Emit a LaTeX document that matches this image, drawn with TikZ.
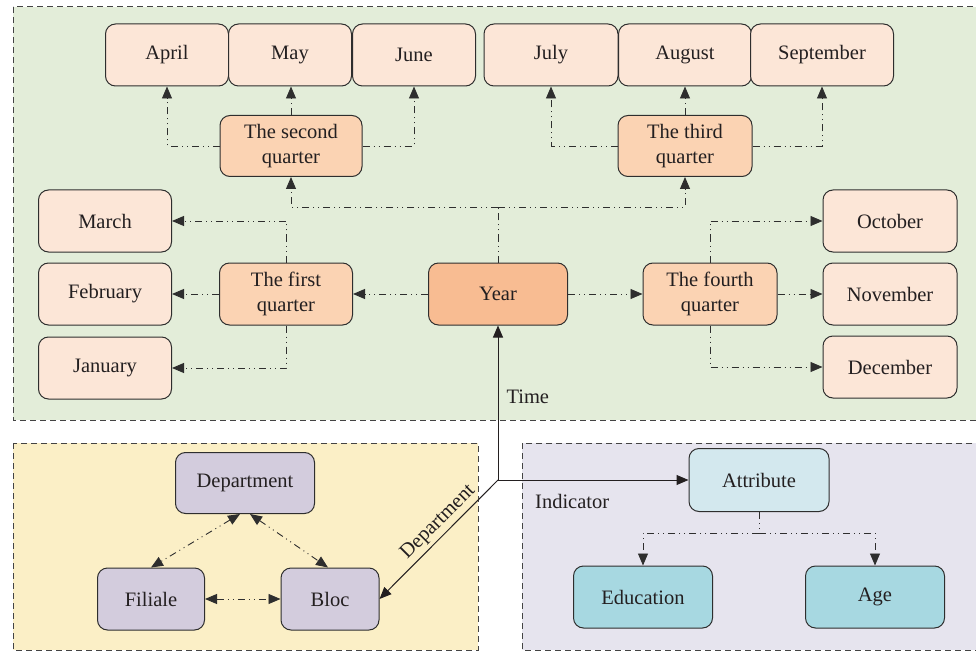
\documentclass[tikz,border=0pt]{standalone}
\usepackage{fontspec}
\setmainfont{Liberation Serif}
\usetikzlibrary{arrows.meta}
\definecolor{txt}{HTML}{231F20}
\definecolor{edge}{HTML}{2E2E2E}
\definecolor{greenbg}{HTML}{E3EDD9}
\definecolor{yellowbg}{HTML}{FBEFC6}
\definecolor{purplebg}{HTML}{E6E4EE}
\definecolor{monthc}{HTML}{FCE6D7}
\definecolor{quarterc}{HTML}{FBD3B3}
\definecolor{yearc}{HTML}{F8BC92}
\definecolor{deptc}{HTML}{D3CCDD}
\definecolor{attrc}{HTML}{D3E8EE}
\definecolor{educ}{HTML}{A7D8E1}
\newcommand\fsz{\fontsize{20.5}{25}\selectfont}
\tikzset{
  box/.style={draw=edge, line width=1pt, rounded corners=10pt, align=center,
    inner sep=0pt, font=\fsz, text=txt, minimum height=62pt},
  monthbox/.style={box, fill=monthc, minimum width=123pt},
  quarterbox/.style={box, fill=quarterc, minimum width=134pt},
  yearbox/.style={box, fill=yearc, minimum width=139pt},
  deptbox/.style={box, fill=deptc},
  attrbox/.style={box, fill=attrc, minimum width=140pt, minimum height=63pt},
  edubox/.style={box, fill=educ, minimum width=139pt},
  panel/.style={draw=edge!90, line width=1pt, dash pattern=on 6pt off 4pt},
  ddot/.style={draw=edge, line width=0.9pt,
    dash pattern=on 7pt off 4pt on 1pt off 4pt on 1pt off 4pt},
  tip/.style={-{Triangle[length=12pt,width=10pt]}},
  tips/.style={{Triangle[length=12pt,width=10pt]}-{Triangle[length=12pt,width=10pt]}},
  solidln/.style={draw=txt, line width=1pt},
  lbl/.style={font=\fsz, text=txt, inner sep=0pt}
}
\begin{document}
\begin{tikzpicture}[x=1pt,y=-1pt]
\useasboundingbox (0,0) rectangle (976,652);
\clip (0,0) rectangle (976,652);
% panels
\path[panel, fill=greenbg] (13,7) rectangle (990,420);
\path[panel, fill=yellowbg] (13,443) rectangle (478,650);
\path[panel, fill=purplebg] (522,443) rectangle (990,650);

% months top
\node[monthbox] (apr) at (167,55) {April};
\node[monthbox] (may) at (290,55) {May};
\node[monthbox] (jun) at (414,55) {June};
\node[monthbox, minimum width=134pt] (jul) at (551,55) {July};
\node[monthbox, minimum width=133pt] (aug) at (685,55) {August};
\node[monthbox, minimum width=143pt] (sep) at (822,55) {September};

\node[quarterbox, minimum width=142pt, minimum height=61pt] (q2) at (291,146) {The second\\quarter};
\node[quarterbox, minimum height=61pt] (q3) at (685,146) {The third\\quarter};

\node[monthbox, minimum width=133pt] (mar) at (105,221) {March};
\node[monthbox, minimum width=133pt] (feb) at (105,294) {February};
\node[monthbox, minimum width=133pt] (jan) at (105,368) {January};
\node[quarterbox, minimum width=133pt] (q1) at (286,294) {The first\\quarter};
\node[yearbox] (year) at (498,294) {Year};
\node[quarterbox] (q4) at (710,294) {The fourth\\quarter};
\node[monthbox, minimum width=134pt] (oct) at (890,221) {October};
\node[monthbox, minimum width=134pt] (nov) at (890,294) {November};
\node[monthbox, minimum width=134pt] (dec) at (890,367) {December};

% bottom left
\node[deptbox, minimum width=139pt, minimum height=61pt] (dept) at (245,483) {Department};
\node[deptbox, minimum width=107pt] (fil) at (151,599) {Filiale};
\node[deptbox, minimum width=98pt] (bloc) at (330,599) {Bloc};

% bottom right
\node[attrbox] (attr) at (759,480) {Attribute};
\node[edubox] (edu) at (643,597) {Education};
\node[edubox] (age) at (875,597) {Age};
\node[lbl, anchor=west] (ind) at (535,501) {Indicator};

% year tree
\coordinate (ytop) at (498,207);
\draw[ddot] (year.north) -- (ytop);
\draw[ddot, tip] (ytop) -| (q2.south);
\draw[ddot, tip] (ytop) -| (q3.south);
\draw[ddot, tip] (year.west) -- (q1.east);
\draw[ddot, tip] (year.east) -- (q4.west);

% second quarter
\draw[ddot, tip] (q2.west) -| (apr.south);
\draw[ddot, tip] (q2.north) -- (may.south -| q2.north);
\draw[ddot, tip] (q2.east) -| (jun.south);
% third quarter
\draw[ddot, tip] (q3.west) -| (jul.south);
\draw[ddot, tip] (q3.north) -- (aug.south);
\draw[ddot, tip] (q3.east) -| (sep.south);
% first quarter
\draw[ddot, tip] (q1.north) |- (mar.east);
\draw[ddot, tip] (q1.west) -- (feb.east);
\draw[ddot, tip] (q1.south) |- (jan.east);
% fourth quarter
\draw[ddot, tip] (q4.north) |- (oct.west);
\draw[ddot, tip] (q4.east) -- (nov.west);
\draw[ddot, tip] (q4.south) |- (dec.west);

% solid links
\coordinate (hub) at (498,480);
\draw[solidln, tip] (hub) -- node[lbl, pos=0.54, right=8pt] (time) {Time} (year.south);
\draw[solidln, tip] (hub) -- (attr.west);
\draw[solidln, tip] (hub) -- node[lbl, sloped, above=3pt, pos=0.43] (deplbl) {Department} (bloc.east);

% department triangle
\draw[ddot, tips] ([xshift=-5pt]dept.south) -- (fil.north);
\draw[ddot, tips] ([xshift=5pt]dept.south) -- ([xshift=-2pt]bloc.north);
\draw[ddot, tips] (fil.east) -- (bloc.west);

% attribute tree
\coordinate (ajoin) at (759,533);
\draw[ddot] (attr.south) -- (ajoin);
\draw[ddot, tip] (ajoin) -| (edu.north);
\draw[ddot, tip] (ajoin) -| (age.north);
\end{tikzpicture}
\end{document}
